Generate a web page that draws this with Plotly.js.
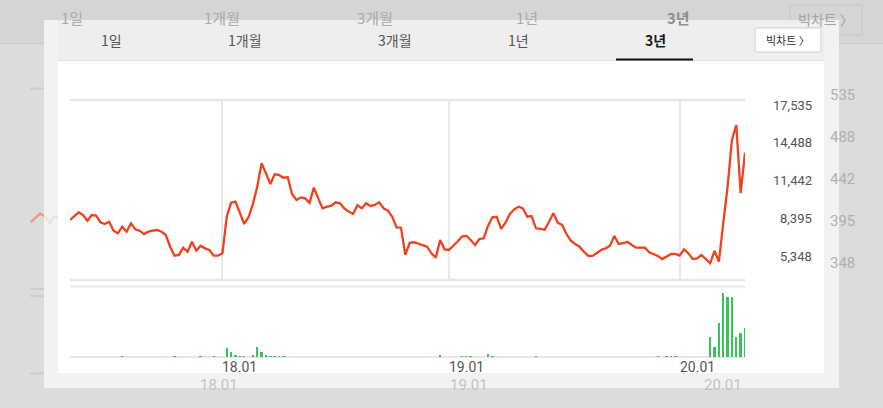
<!DOCTYPE html>
<html><head><meta charset="utf-8">
<script src="https://cdn.plot.ly/plotly-3.0.1.min.js"></script>
<style>html,body{margin:0;padding:0;background:#dcdcdc;}#chart{width:883px;height:408px;}</style>
</head><body><div id="chart"></div>
<script>
// ---- data ----
const startWeek = '2017-05-01';   // first weekly bar
const price = [8290, 8610, 8910, 8690, 8230, 8690, 8640, 8100, 7970, 8150,
  7430, 7220, 7750, 7350, 8020, 7540, 7430, 7160, 7350, 7430,
  7490, 7350, 7080, 6140, 5420, 5480, 6060, 5740, 6540, 5820,
  6220, 6010, 5880, 5420, 5420, 5610, 8550, 9680, 9760, 8880,
  7970, 8510, 9580, 10970, 12850, 12040, 11180, 11960, 11910, 11690,
  11720, 10360, 9900, 10110, 10030, 9680, 10890, 10030, 9230, 9360,
  9420, 9710, 9630, 9230, 8960, 8770, 9470, 9230, 9630, 9420,
  9500, 9710, 9230, 9040, 8550, 7700, 7670, 5480, 6460, 6500,
  6360, 6280, 6140, 5610, 5260, 6680, 5930, 5880, 6200, 6560,
  6950, 7030, 6680, 6280, 6760, 6820, 7830, 8510, 8550, 7570,
  8070, 8770, 9150, 9360, 9230, 8550, 8610, 7620, 7570, 7510,
  8150, 8830, 8070, 7890, 7160, 6630, 6360, 6140, 5740, 5400,
  5400, 5690, 5900, 6010, 6220, 7000, 6360, 6420, 6540, 6280,
  6060, 6060, 6060, 5690, 5560, 5400, 5150, 5340, 5560, 5560,
  5420, 5930, 5610, 5150, 5210, 5480, 5150, 4810, 5800, 4940,
  8020, 10970, 14720, 15930, 10440, 13700];
const volume = [10000, 9000, 11000, 8000, 10000, 9000, 8000, 10000, 9000, 11000,
  10000, 12000, 30000, 10000, 9000, 8000, 10000, 11000, 9000, 8000,
  10000, 9000, 12000, 15000, 35000, 12000, 10000, 15000, 12000, 18000,
  30000, 15000, 12000, 30000, 15000, 25000,
  450000, 250000, 100000, 70000, 50000, 25000, 120000, 500000, 230000, 100000,
  40000, 35000, 30000, 30000, 25000, 25000, 12000, 10000, 15000, 10000,
  12000, 20000, 10000, 9000, 20000, 10000, 8000, 10000, 20000, 9000,
  8000, 10000, 9000, 8000, 12000, 9000, 8000, 10000, 9000, 12000,
  15000, 18000, 20000, 12000, 10000, 12000, 10000, 15000, 18000, 120000,
  12000, 10000, 12000, 10000, 30000, 35000, 30000, 15000, 10000, 25000,
  170000, 30000, 15000, 10000, 12000, 25000, 10000, 9000, 10000, 8000,
  25000, 30000, 25000, 15000, 10000, 9000, 10000, 8000, 10000, 9000,
  8000, 10000, 9000, 8000, 10000, 9000, 8000, 10000, 9000, 8000,
  12000, 10000, 9000, 8000, 10000, 9000, 8000, 10000, 12000, 30000,
  25000, 30000, 40000, 30000, 25000, 12000, 15000, 10000, 12000, 15000, 25000,
  1010000, 510000, 1710000, 3200000, 2970000, 2970000, 980000, 1180000, 1460000];
const yTicks = [5348, 8395, 11442, 14488, 17535];
const xTicks = ['2018-01-01', '2018-12-31', '2020-01-06'];
const xTickText = ['18.01', '19.01', '20.01'];
const tabs = ['1일', '1개월', '3개월', '1년', '3년'];
const bigChart = '빅차트 〉';

// ---- helpers ----
const W = 883, H = 408;
const px = x => x / W, py = y => 1 - y / H;
const WEEK = 7 * 86400000;
const t0 = Date.parse(startWeek + 'T00:00:00Z');
const iso = t => new Date(t).toISOString().slice(0, 10);
const dates = price.map((_, i) => iso(t0 + i * WEEK));
const fmt = v => v.toLocaleString('en-US');
const NUM = 'Roboto, "Noto Sans", sans-serif';
const KR = '"Noto Sans CJK KR", "Noto Sans", sans-serif';

// main price axis geometry
const yMin = 3465, yMax = 17937;
const mainL = 70, mainR = 745;
const nW = price.length - 1;
const pxPerWeek = (mainR - mainL) / nW;
// ghost (enlarged, dimmed chart behind the panel)
const gs = 1.105, gdx = -47, gdy = -21;
const gStart = gs * mainL + gdx;
const gPxWeek = pxPerWeek * gs;
const ghostRange = [iso(t0 - (gStart / gPxWeek) * WEEK), iso(t0 + ((58 - gStart) / gPxWeek) * WEEK)];

const traces = [
  {x: dates, y: price, xaxis: 'x', yaxis: 'y', type: 'scatter', mode: 'lines',
   line: {color: '#e79a88', width: 2.4}, hoverinfo: 'skip'},
  {x: dates, y: price, xaxis: 'x2', yaxis: 'y2', type: 'scatter', mode: 'lines',
   line: {color: '#f0401c', width: 2.3}},
  {x: dates, y: volume, xaxis: 'x3', yaxis: 'y3', type: 'bar',
   marker: {color: '#3cc15e', line: {width: 0}}, width: 0.55 * WEEK}
];

const rect = (x0, y0, x1, y1, fill, line, layer) => ({type: 'rect', xref: 'paper', yref: 'paper',
  x0: px(x0), x1: px(x1), y0: py(y1), y1: py(y0), fillcolor: fill,
  line: line || {width: 0}, layer: layer || 'below'});
const hline = (x0, x1, y, color, w, layer) => ({type: 'line', xref: 'paper', yref: 'paper',
  x0: px(x0), x1: px(x1), y0: py(y), y1: py(y), line: {color: color, width: w}, layer: layer || 'below'});

const shapes = [
  rect(0, 0, W, 43, '#d5d5d5'),
  hline(0, W, 43.5, '#cacaca', 1),
  rect(790, 5, 862, 35, 'rgba(0,0,0,0)', {color: '#c5c5c5', width: 1}),
  hline(30, 58, 88.5, '#cdcdcd', 2),
  hline(30, 58, 289, '#cdcdcd', 2),
  hline(30, 58, 296, '#cdcdcd', 2),
  hline(30, 58, 373.5, '#cdcdcd', 2),
  rect(44, 20, 839, 388, '#f2f2f2'),
  rect(58, 20, 824, 60, '#eeeeee'),
  hline(58, 824, 60.5, '#dddddd', 1),
  rect(58, 61, 824, 373, '#ffffff'),
  hline(616, 693, 59.5, '#111111', 2),
  rect(755, 28, 821, 52, '#ffffff', {color: '#cfcfcf', width: 1}),
  // chart frame lines
  {type: 'line', xref: 'x2 domain', yref: 'y2 domain', x0: 0, x1: 1, y0: 1, y1: 1, line: {color: '#e6e6e6', width: 2.5}, layer: 'below'},
  {type: 'line', xref: 'x2 domain', yref: 'y2 domain', x0: 0, x1: 1, y0: 0, y1: 0, line: {color: '#e6e6e6', width: 2.5}, layer: 'below'},
  {type: 'line', xref: 'x2 domain', yref: 'paper', x0: 0, x1: 1, y0: py(286.5), y1: py(286.5), line: {color: '#e9e9e9', width: 2}, layer: 'below'},
  {type: 'line', xref: 'x3 domain', yref: 'y3 domain', x0: 0, x1: 1, y0: 0, y1: 0, line: {color: '#e6e6e6', width: 2}, layer: 'below'},
  // fade of ghost under panel margin
  rect(44, 61, 58, 373, 'rgba(242,242,242,0.82)', null, 'above')
];

const annotations = [];
const txt = (o) => Object.assign({showarrow: false, xanchor: 'center', yanchor: 'middle', borderpad: 0}, o);
// ghost tabs
const ghostTabX = [72, 222, 375, 527, 678];
tabs.forEach((t, i) => annotations.push(txt({xref: 'paper', yref: 'paper', x: px(ghostTabX[i]), y: py(18),
  text: i === 4 ? '<b>' + t + '</b>' : t,
  font: {family: KR, size: 15, color: i === 4 ? '#8e8e8e' : '#ababab'}})));
annotations.push(txt({xref: 'paper', yref: 'paper', x: px(826), y: py(19), text: bigChart,
  font: {family: KR, size: 14, color: '#a3a3a3'}}));
// ghost right value labels
yTicks.forEach(v => annotations.push(txt({xref: 'paper', yref: 'y', x: px(856), xanchor: 'right', y: v,
  text: fmt(v).slice(-3), font: {family: NUM, size: 15, color: '#b0b0b0'}})));
// ghost date labels
const ghostXLab = [219, 469, 723];
xTickText.forEach((t, i) => annotations.push(txt({xref: 'paper', yref: 'paper', x: px(ghostXLab[i]), y: py(385),
  text: t, font: {family: NUM, size: 15, color: '#c2c2c2'}})));
// foreground tabs
const tabX = [112, 245, 395, 518, 655];
tabs.forEach((t, i) => annotations.push(txt({xref: 'paper', yref: 'paper', x: px(tabX[i]), y: py(40),
  text: i === 4 ? '<b>' + t + '</b>' : t,
  font: {family: KR, size: 14, color: i === 4 ? '#1a1a1a' : '#555555'}})));
annotations.push(txt({xref: 'paper', yref: 'paper', x: px(788), y: py(40), text: bigChart,
  font: {family: KR, size: 11, color: '#333333'}}));
// price labels
yTicks.forEach(v => annotations.push(txt({xref: 'paper', yref: 'y2', x: px(813), xanchor: 'right', y: v,
  text: fmt(v), font: {family: NUM, size: 13, color: '#555555'}})));
// date labels
xTicks.forEach((d, i) => annotations.push(txt({xref: 'x2', yref: 'paper', x: d, xanchor: 'left', xshift: -1,
  y: py(367), text: xTickText[i], font: {family: NUM, size: 14, color: '#555555'}})));

const layout = {
  width: W, height: H, margin: {l: 0, r: 0, t: 0, b: 0},
  paper_bgcolor: '#dcdcdc', plot_bgcolor: 'rgba(0,0,0,0)', showlegend: false,
  xaxis: {type: 'date', domain: [0, px(58)], range: ghostRange, visible: false, fixedrange: true},
  yaxis: {domain: [py(gs * 280 + gdy), py(gs * 100 + gdy)], range: [yMin, yMax], visible: false},
  xaxis2: {type: 'date', domain: [px(mainL), px(mainR)], range: [dates[0], dates[nW]], anchor: 'y2',
    tickvals: xTicks, showticklabels: false, showgrid: true, gridcolor: '#e8e8e8', gridwidth: 2,
    zeroline: false, showline: false, ticks: ''},
  yaxis2: {domain: [py(280), py(100)], range: [yMin, yMax], anchor: 'x2', showgrid: false,
    showticklabels: false, zeroline: false, ticks: ''},
  xaxis3: {type: 'date', domain: [px(mainL), px(mainR)], range: [dates[0], dates[nW]], anchor: 'y3',
    matches: 'x2', showticklabels: false, showgrid: false, zeroline: false, ticks: ''},
  yaxis3: {domain: [py(357), py(290)], range: [0, 3200000 * 67 / 64.3], anchor: 'x3', showgrid: false,
    showticklabels: false, zeroline: false, ticks: ''},
  bargap: 0, shapes: shapes, annotations: annotations
};

Plotly.newPlot('chart', traces, layout, {displayModeBar: false, staticPlot: true});
</script></body></html>
